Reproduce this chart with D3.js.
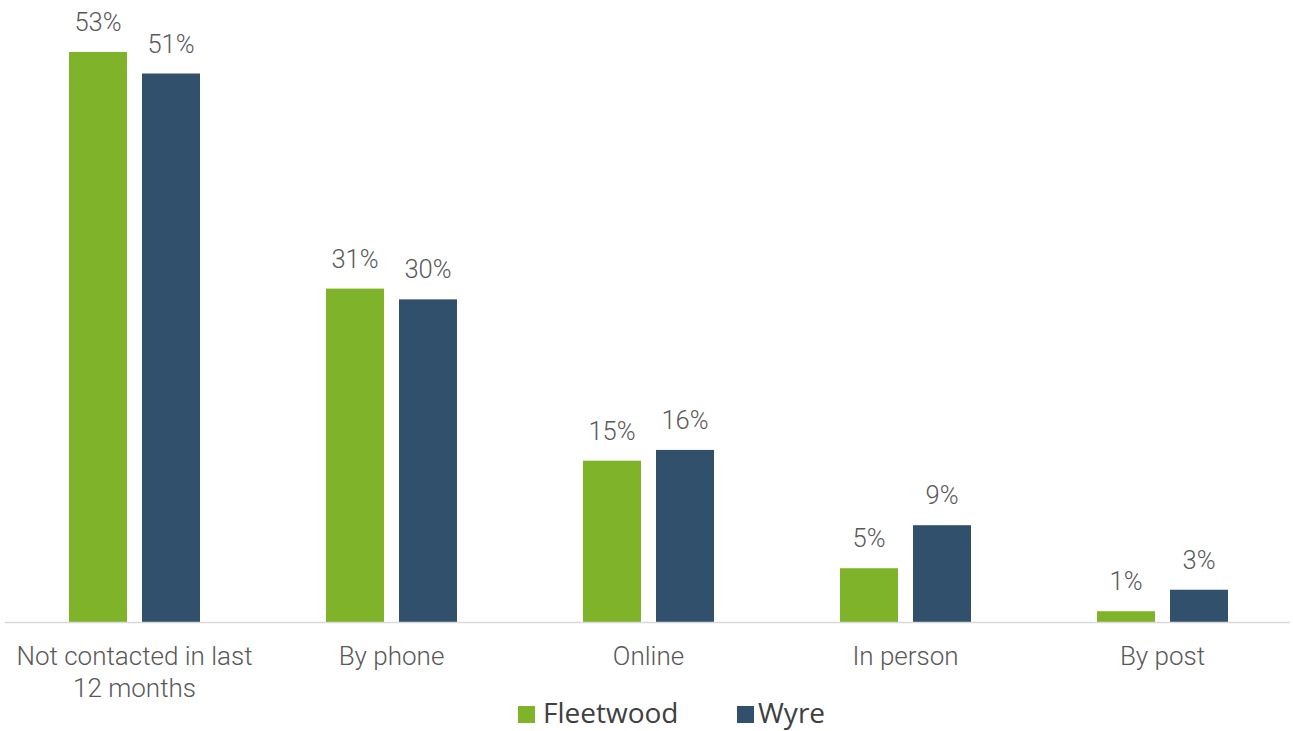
<!DOCTYPE html>
<html>
<head>
<meta charset="utf-8">
<script src="https://cdn.jsdelivr.net/npm/d3@7"></script>
<style>
  html, body { margin: 0; padding: 0; background: #ffffff; }
  svg { display: block; }
</style>
</head>
<body>
<svg id="chart" width="1293" height="731"></svg>
<script>
// Contact method with the council, by area (percent)
const categories = [
  ["Not contacted in last", "12 months"],
  ["By phone"],
  ["Online"],
  ["In person"],
  ["By post"]
];
const seriesNames = ["Fleetwood", "Wyre"];
const fleetwood = [53, 31, 15, 5, 1];
const wyre = [51, 30, 16, 9, 3];
const seriesColors = ["#7FB32A", "#31506B"];

const W = 1293, H = 731;
const baseY = 622;
const svg = d3.select("#chart");

const catKeys = categories.map(c => c.join(" "));
const values = [fleetwood, wyre];

const x0 = d3.scaleBand().domain(catKeys).range([6, 1291]).padding(0);
const x1 = d3.scaleBand().domain(seriesNames)
  .range([0, x0.bandwidth()])
  .paddingInner(0.2055)
  .paddingOuter(0.863);
const y = d3.scaleLinear().domain([0, 53]).range([baseY, 52]);
const color = d3.scaleOrdinal().domain(seriesNames).range(seriesColors);

const rows = [];
catKeys.forEach((k, i) => {
  seriesNames.forEach((s, j) => rows.push({ cat: k, series: s, value: values[j][i] }));
});

// bars
svg.append("g").selectAll("rect").data(rows).join("rect")
  .attr("x", d => x0(d.cat) + x1(d.series))
  .attr("y", d => y(d.value))
  .attr("width", x1.bandwidth())
  .attr("height", d => baseY - y(d.value))
  .attr("fill", d => color(d.series));

// value labels
svg.append("g").selectAll("text").data(rows).join("text")
  .attr("x", d => x0(d.cat) + x1(d.series) + x1.bandwidth() / 2)
  .attr("y", d => y(d.value) - 21)
  .attr("text-anchor", "middle")
  .attr("font-family", "Roboto, sans-serif")
  .attr("font-weight", 300)
  .attr("font-size", 25.5)
  .attr("fill", "#595959")
  .text(d => d.value + "%");

// baseline
svg.append("line")
  .attr("x1", 5).attr("x2", 1290)
  .attr("y1", baseY + 0.5).attr("y2", baseY + 0.5)
  .attr("stroke", "#d9d9d9")
  .attr("stroke-width", 1.5);

// category labels
const catG = svg.append("g");
categories.forEach((lines, i) => {
  const t = catG.append("text")
    .attr("x", x0(catKeys[i]) + x0.bandwidth() / 2)
    .attr("y", 665)
    .attr("text-anchor", "middle")
    .attr("font-family", "Roboto, sans-serif")
    .attr("font-weight", 300)
    .attr("font-size", 26)
    .attr("fill", "#595959");
  lines.forEach((ln, j) => {
    t.append("tspan")
      .attr("x", x0(catKeys[i]) + x0.bandwidth() / 2)
      .attr("dy", j === 0 ? 0 : 32)
      .text(ln);
  });
});

// legend
const legendItems = [
  { name: seriesNames[0], sx: 518, tx: 543 },
  { name: seriesNames[1], sx: 737, tx: 758 }
];
const lg = svg.append("g");
legendItems.forEach(it => {
  lg.append("rect")
    .attr("x", it.sx).attr("y", 706)
    .attr("width", 17).attr("height", 17)
    .attr("fill", color(it.name));
  lg.append("text")
    .attr("x", it.tx).attr("y", 723)
    .attr("font-family", "'Open Sans', sans-serif")
    .attr("font-size", 28)
    .attr("fill", "#404040")
    .text(it.name);
});
</script>
</body>
</html>
